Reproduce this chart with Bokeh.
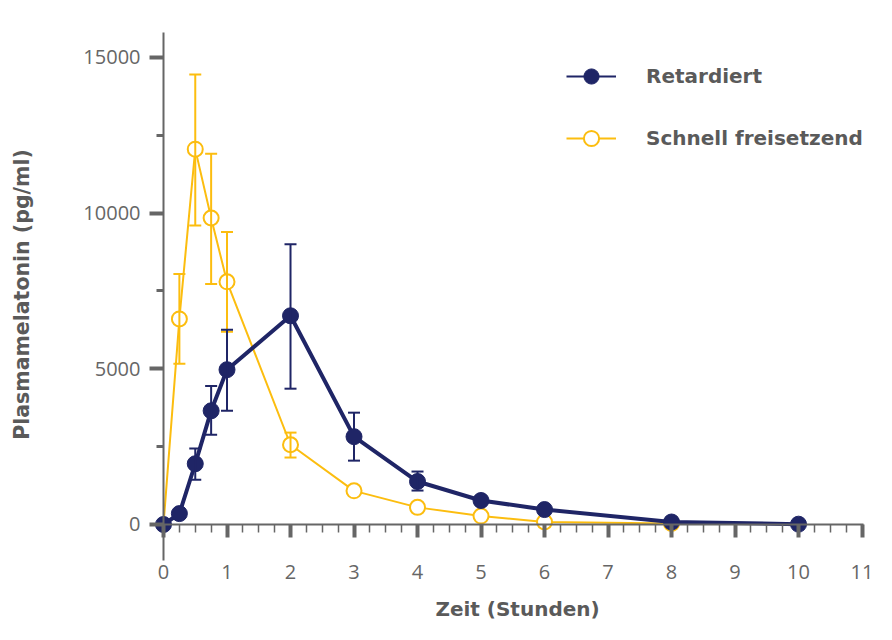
import math
from bokeh.plotting import figure
from bokeh.models import (ColumnDataSource, Whisker, TeeHead, FixedTicker, Legend,
                          LegendItem, Label, Range1d)
from bokeh.embed import file_html
from bokeh.resources import INLINE

# ---------------- data ----------------
ret_t = [0, 0.25, 0.5, 0.75, 1, 2, 3, 4, 5, 6, 8, 10]
ret_mean = [0, 350, 1950, 3650, 4970, 6700, 2820, 1380, 770, 480, 80, 10]
ret_err_t = [0.5, 0.75, 1, 2, 3, 4]
ret_err_upper = [2440, 4450, 6250, 9000, 3590, 1700]
ret_err_lower = [1440, 2880, 3650, 4360, 2050, 1090]

fast_t = [0, 0.25, 0.5, 0.75, 1, 2, 3, 4, 5, 6, 8]
fast_mean = [0, 6600, 12050, 9840, 7790, 2560, 1080, 550, 270, 80, 30]
fast_err_t = [0.25, 0.5, 0.75, 1, 2]
fast_err_upper = [8040, 14450, 11900, 9390, 2950]
fast_err_lower = [5160, 9600, 7720, 6190, 2150]

x_major = list(range(0, 12))
x_minor = [i * 0.25 for i in range(0, 45)]
y_major = [0, 5000, 10000, 15000]
y_minor = [2500, 7500, 12500]

series_names = ["Retardiert", "Schnell freisetzend"]
x_title = "Zeit (Stunden)"
y_title = "Plasmamelatonin (pg/ml)"

NAVY = "#1f2566"
YELLOW = "#fcbd0f"
AXIS = "#666666"
TXT = "#5a5a5a"
FONT = "Open Sans"
TFONT = "DejaVu Sans"

p = figure(width=892, height=640, x_range=Range1d(-2.567, 11.480),
           y_range=Range1d(-3724, 16822), output_backend="svg",
           toolbar_location=None, min_border=0)
p.outline_line_color = None
p.grid.visible = False
p.background_fill_color = "white"

# axes (fixed at the origin, limited by bounds)
p.xaxis.fixed_location = 0
p.yaxis.fixed_location = 0
p.xaxis.bounds = (-0.205, 11.02)
p.yaxis.bounds = (-1156, 15795)
for ax in (p.xaxis[0], p.yaxis[0]):
    ax.axis_line_color = AXIS
    ax.axis_line_width = 2
    ax.major_tick_line_color = AXIS
    ax.minor_tick_line_color = AXIS
    ax.major_tick_in = 0
    ax.minor_tick_in = 0
    ax.major_label_text_font = FONT
    ax.major_label_text_font_size = "20px"
    ax.major_label_text_color = AXIS

xa = p.xaxis[0]
xa.ticker = FixedTicker(ticks=x_major, minor_ticks=x_minor)
xa.major_tick_out = 13
xa.major_tick_line_width = 4
xa.minor_tick_out = 8
xa.minor_tick_line_width = 1.5
xa.major_label_standoff = 28

ya = p.yaxis[0]
ya.ticker = FixedTicker(ticks=y_major, minor_ticks=y_minor)
ya.major_tick_out = 14
ya.major_tick_line_width = 4
ya.minor_tick_out = 7
ya.minor_tick_line_width = 3
ya.major_label_standoff = 9

# fast release series
fsrc = ColumnDataSource(dict(t=fast_t, m=fast_mean))
fmk = ColumnDataSource(dict(t=fast_t[1:], m=fast_mean[1:]))
fesrc = ColumnDataSource(dict(t=fast_err_t, up=fast_err_upper, lo=fast_err_lower))
f_line = p.line("t", "m", source=fsrc, line_color=YELLOW, line_width=2)
p.add_layout(Whisker(source=fesrc, base="t", upper="up", lower="lo",
                     line_color=YELLOW, line_width=2, level="glyph",
                     upper_head=TeeHead(size=12, line_color=YELLOW, line_width=2),
                     lower_head=TeeHead(size=12, line_color=YELLOW, line_width=2)))
f_sc = p.scatter("t", "m", source=fmk, marker="circle", size=15,
                 fill_color="white", line_color=YELLOW, line_width=2)

# retarded series
rsrc = ColumnDataSource(dict(t=ret_t, m=ret_mean))
resrc = ColumnDataSource(dict(t=ret_err_t, up=ret_err_upper, lo=ret_err_lower))
r_thin = p.line("t", "m", source=rsrc, line_color=NAVY, line_width=2)
p.line("t", "m", source=rsrc, line_color=NAVY, line_width=4)
p.add_layout(Whisker(source=resrc, base="t", upper="up", lower="lo",
                     line_color=NAVY, line_width=2, level="glyph",
                     upper_head=TeeHead(size=12, line_color=NAVY, line_width=2),
                     lower_head=TeeHead(size=12, line_color=NAVY, line_width=2)))
r_sc = p.scatter("t", "m", source=rsrc, marker="circle", size=16,
                 fill_color=NAVY, line_color=NAVY, line_width=1)

legend = Legend(items=[LegendItem(label=series_names[0], renderers=[r_thin, r_sc]),
                       LegendItem(label=series_names[1], renderers=[f_line, f_sc])],
                location=(566, 483), orientation="vertical",
                glyph_width=50, glyph_height=38, label_height=38, spacing=24,
                label_standoff=30, padding=0, margin=0,
                border_line_color=None, background_fill_alpha=0,
                label_text_font=TFONT, label_text_font_size="20px",
                label_text_font_style="bold", label_text_color=TXT)
p.add_layout(legend, "center")

# axis titles
p.add_layout(Label(x=5.575, y=-2697, text=x_title, text_align="center",
                   text_baseline="middle", text_font=TFONT, text_font_size="20px",
                   text_font_style="bold", text_color=TXT))
p.add_layout(Label(x=-2.236, y=7384, text=y_title, angle=math.pi / 2,
                   text_align="center", text_baseline="middle", text_font=TFONT,
                   text_font_size="20.5px", text_font_style="bold", text_color=TXT))

open("out.html", "w").write(file_html(p, INLINE))
